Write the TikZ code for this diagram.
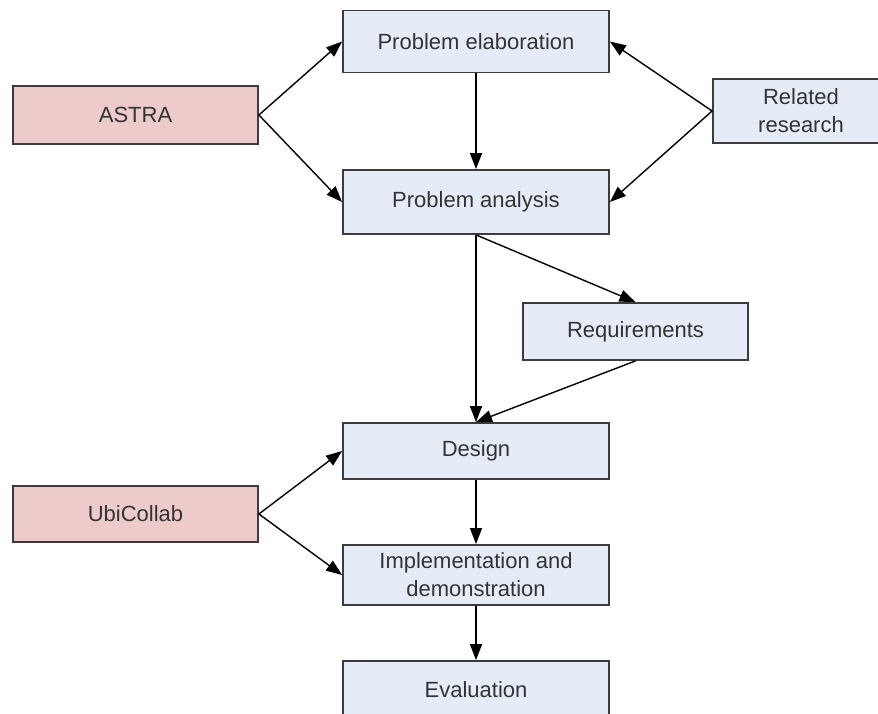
\documentclass[tikz,border=0pt]{standalone}
\usepackage{fontspec}
\setmainfont{Liberation Sans}
\usetikzlibrary{arrows.meta}
\definecolor{boxblue}{HTML}{E6ECF7}
\definecolor{boxpink}{HTML}{EDCBCB}
\definecolor{edge}{HTML}{3C3C3C}
\definecolor{txt}{HTML}{333333}
\tikzset{
  x=1pt, y=-1pt,
  stage/.style={draw=edge, line width=1.8pt, fill=boxblue, text=txt,
    minimum width=266pt, minimum height=62pt, inner sep=0pt,
    align=center, font=\fontsize{22}{28}\selectfont},
  source/.style={stage, fill=boxpink, minimum width=245pt, minimum height=58pt},
  flow/.style={draw=black, line width=1.4pt,
    -{Triangle[length=16pt,width=12pt]}},
}
\begin{document}
\begin{tikzpicture}
  \useasboundingbox (0,0) rectangle (878,714);
  \clip (0,0) rectangle (878,714);
  % process stages
  \node[stage] (elab) at (476,41.5) {Problem elaboration};
  \node[stage, minimum height=64pt] (anal) at (476,202) {Problem analysis};
  \node[stage, minimum width=225pt, minimum height=57pt] (req) at (635.5,331.5) {Requirements};
  \node[stage, minimum height=56pt] (design) at (476,451) {Design};
  \node[stage, minimum height=60pt] (impl) at (476,575) {Implementation and\\demonstration};
  \node[stage, minimum height=58pt] (eval) at (476,690) {Evaluation};
  % inputs
  \node[source] (astra) at (135.5,115) {ASTRA};
  \node[source, minimum height=56pt] (ubi) at (135.5,514) {UbiCollab};
  \node[stage, minimum width=176pt, minimum height=64pt] (rel) at (801,111) {Related\\research};
  % connectors
  \draw[flow] (astra.east) -- (elab.west);
  \draw[flow] (astra.east) -- (anal.west);
  \draw[flow] (rel.west) -- (elab.east);
  \draw[flow] (rel.west) -- (anal.east);
  \draw[flow] (elab.south) -- (anal.north);
  \draw[flow] (anal.south) -- (design.north);
  \draw[flow] (anal.south) -- (req.north);
  \draw[flow] (req.south) -- (design.north);
  \draw[flow] (ubi.east) -- (design.west);
  \draw[flow] (ubi.east) -- (impl.west);
  \draw[flow] (design.south) -- (impl.north);
  \draw[flow] (impl.south) -- (eval.north);
\end{tikzpicture}
\end{document}
